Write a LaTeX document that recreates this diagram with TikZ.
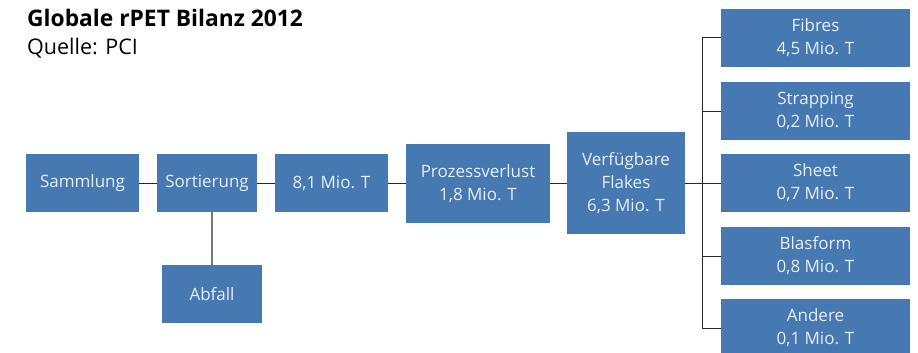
\documentclass[tikz,border=0pt]{standalone}
\usepackage{fontspec}
\setmainfont{Open Sans}
\definecolor{boxblue}{RGB}{70,121,178}
\definecolor{boxtext}{RGB}{232,238,246}
\definecolor{lineg}{RGB}{40,40,40}
\definecolor{lineg2}{RGB}{120,120,120}
\begin{document}
\begin{tikzpicture}[x=1pt,y=-1pt,
  bx/.style={fill=boxblue,draw=none,text=boxtext,align=center,inner sep=0pt,
    font=\fontsize{17}{23}\selectfont},
  ln/.style={draw=lineg,line width=1pt}]
\useasboundingbox (0,0) rectangle (918,353);
\clip (0,0) rectangle (918,353);
\node[anchor=base west,inner sep=0pt,font=\fontsize{22.8}{26}\selectfont\bfseries] (title) at (27,27) {Globale rPET Bilanz 2012};
\node[anchor=base west,inner sep=0pt,font=\fontsize{21.5}{26}\selectfont] (src) at (27,55) {Quelle: PCI};
\node[bx,minimum width=113,minimum height=58] (samm) at (82.5,183) {Sammlung};
\node[bx,minimum width=100,minimum height=58] (sort) at (207,183) {Sortierung};
\node[bx,minimum width=113,minimum height=58] (m81) at (331.5,183) {8,1 Mio. T};
\node[bx,minimum width=144,minimum height=79] (proz) at (478,183.5) {Prozessverlust\\1,8 Mio. T};
\node[bx,minimum width=118,minimum height=102] (flak) at (626,183) {Verfügbare\\Flakes\\6,3 Mio. T};
\node[bx,minimum width=100,minimum height=58] (abf) at (212,294) {Abfall};
\node[bx,minimum width=189,minimum height=58] (fib) at (815.5,38) {Fibres\\4,5 Mio. T};
\node[bx,minimum width=189,minimum height=58] (str) at (815.5,111) {Strapping\\0,2 Mio. T};
\node[bx,minimum width=189,minimum height=58] (she) at (815.5,183) {Sheet\\0,7 Mio. T};
\node[bx,minimum width=189,minimum height=58] (bla) at (815.5,256) {Blasform\\0,8 Mio. T};
\node[bx,minimum width=189,minimum height=58] (and) at (815.5,328) {Andere\\0,1 Mio. T};
\coordinate (tr) at (702,183);
\draw[ln] (samm) -- (sort);
\draw[ln] (sort) -- (m81);
\draw[ln] (m81) -- (proz.west |- m81);
\draw[ln] (proz.east |- flak) -- (flak);
\draw[ln] (flak) -- (tr);
\draw[ln] (tr) -- (she);
\draw[ln] (tr |- fib) -- (tr |- and);
\draw[ln] (tr |- fib) -- (fib);
\draw[ln] (tr |- str) -- (str);
\draw[ln] (tr |- bla) -- (bla);
\draw[ln] (tr |- and) -- (and);
\draw[draw=lineg2,line width=1.2pt] (abf.north) -- (abf.north |- sort.south);
\end{tikzpicture}
\end{document}
